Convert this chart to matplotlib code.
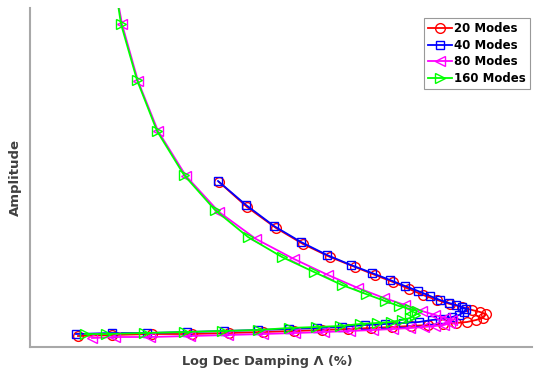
import numpy as np
import matplotlib
matplotlib.use('Agg')
import matplotlib.pyplot as plt

# damping / amplitude values (arbitrary units)
red_x = [189, 217, 246, 273, 300, 325, 345, 363, 379, 393, 407, 420, 432, 442, 450, 456,
         453, 446, 437, 426, 413, 398, 381, 362, 341, 318, 292, 264, 233, 199, 162, 122, 82, 48]
red_y = [165, 140, 119, 103, 90, 80, 72, 65, 58, 52, 47, 43, 40, 37, 35, 33,
         29, 27, 25, 24, 23, 22, 21, 20, 19, 18, 17, 16, 15, 14, 13, 13, 12, 11]

blue_x = [188, 216, 244, 271, 297, 321, 342, 360, 375, 388, 400, 410, 419, 426, 432, 436,
          434, 429, 422, 413, 402, 389, 373, 355, 335, 312, 287, 259, 228, 194, 157, 117, 82, 46]
blue_y = [166, 142, 121, 105, 92, 82, 74, 67, 61, 56, 51, 47, 44, 42, 40, 38,
          35, 32, 30, 28, 27, 25, 24, 23, 22, 20, 19, 18, 17, 16, 15, 14, 14, 13]

mag_x = [85, 92, 108, 128, 156, 189, 226, 264, 298, 328, 354, 375, 392, 405, 415, 422,
         420, 414, 405, 394, 380, 363, 343, 320, 294, 265, 233, 198, 160, 120, 85, 62]
mag_y = [362, 323, 266, 216, 171, 135, 108, 88, 72, 59, 49, 42, 36, 32, 29, 27,
         24, 22, 21, 20, 19, 18, 17, 16, 15, 14, 13, 12, 11, 10, 10, 9]

grn_x = [85, 91, 107, 127, 154, 185, 218, 252, 284, 312, 336, 355, 369, 380, 387,
         385, 380, 372, 361, 347, 330, 310, 286, 259, 228, 192, 154, 114, 76, 55]
grn_y = [362, 323, 267, 216, 172, 137, 110, 90, 75, 62, 53, 46, 41, 38, 36,
         32, 29, 27, 25, 24, 23, 21, 20, 19, 17, 16, 15, 14, 13, 13]

fig = plt.figure(figsize=(5.36, 3.75), dpi=100)
ax = fig.add_axes([30/536, 28/375, 502/536, 339/375])

ms = 7
lw = 1.3
ax.plot(red_x, red_y, '-o', color='#ff0000', mfc='none', ms=ms, lw=lw, label='20 Modes')
ax.plot(blue_x, blue_y, '-s', color='#0000ff', mfc='none', ms=ms - 1, lw=lw, label='40 Modes')
ax.plot(mag_x, mag_y, '-<', color='#ff00ff', mfc='none', ms=ms, lw=lw, label='80 Modes')
ax.plot(grn_x, grn_y, '->', color='#00ff00', mfc='none', ms=ms, lw=lw, label='160 Modes')

ax.set_xlim(0, 502)
ax.set_ylim(0, 339)
ax.set_xticks([])
ax.set_yticks([])
for s in ['top', 'right']:
    ax.spines[s].set_visible(False)
for s in ['left', 'bottom']:
    ax.spines[s].set_color('#a8a8a8')
    ax.spines[s].set_linewidth(1.5)

ax.set_xlabel('Log Dec Damping \u039b (%)', fontsize=9.3, fontweight='bold', color='#404040')
ax.xaxis.set_label_coords(237/502, -0.025)
ax.set_ylabel('Amplitude', fontsize=9.5, fontweight='bold', color='#404040', labelpad=6)

leg = fig.legend(loc='upper right', bbox_to_anchor=(530/536, 1 - 18/375),
                 prop={'weight': 'bold', 'size': 8.5}, fancybox=False, framealpha=1,
                 handlelength=2.0, handletextpad=0.2, borderpad=0.35, labelspacing=0.3,
                 borderaxespad=0.0)
leg.get_frame().set_edgecolor('#999999')
leg.get_frame().set_linewidth(0.8)

fig.savefig('out.png', dpi=100)
